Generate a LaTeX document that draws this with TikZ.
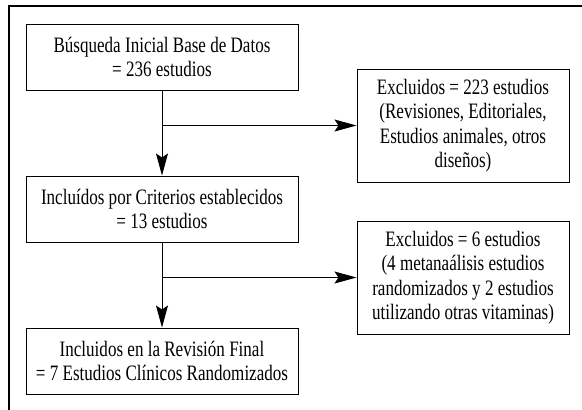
\documentclass[tikz,border=0pt]{standalone}
\usepackage{fontspec}
\setmainfont[FakeStretch=0.775]{Liberation Serif}
\usetikzlibrary{arrows.meta}
\tikzset{stagebox/.style={draw,rectangle,line width=1pt,minimum width=272pt,minimum height=66pt,align=center,inner sep=0},
    exclbox/.style={draw,rectangle,line width=1pt,minimum width=212pt,minimum height=113pt,align=center,inner sep=0},
    flowarrow/.style={-{Stealth[length=22pt,width=12pt,inset=4pt]},line width=1pt},
    flowfont/.style={font=\fontsize{22}{24.5}\selectfont}
}

\begin{document}
\begin{tikzpicture}[x=1pt,y=-1pt,every node/.style={flowfont}]

\useasboundingbox (0,0) rectangle (582,410);

% frame
\draw [line width=1.2pt] (582,6) -- (9,6) -- (9,410);

\node (busqueda) at (162,57) [stagebox] {Búsqueda Inicial Base de Datos\\= 236 estudios};
\node (incluidos) at (162,209) [stagebox] {Incluídos por Criterios establecidos\\= 13 estudios};
\node (final) at (162,361) [stagebox] {Incluidos en la Revisión Final\\= 7 Estudios Clínicos Randomizados};

\node (excluidosA) at (463,125.5) [exclbox] {Excluidos = 223 estudios\\(Revisiones, Editoriales,\\Estudios animales, otros\\diseños)};
\node (excluidosB) at (463,277.5) [exclbox] {Excluidos = 6 estudios\\(4 metanaálisis estudios\\randomizados y 2 estudios\\utilizando otras vitaminas)};

\draw [flowarrow] (busqueda) -- (incluidos);
\draw [flowarrow] (incluidos) -- (final);

% branches
\draw [flowarrow] (busqueda.south |- excluidosA.west) -- (excluidosA.west);
\draw [flowarrow] (incluidos.south |- excluidosB.west) -- (excluidosB.west);

\end{tikzpicture}
\end{document}
